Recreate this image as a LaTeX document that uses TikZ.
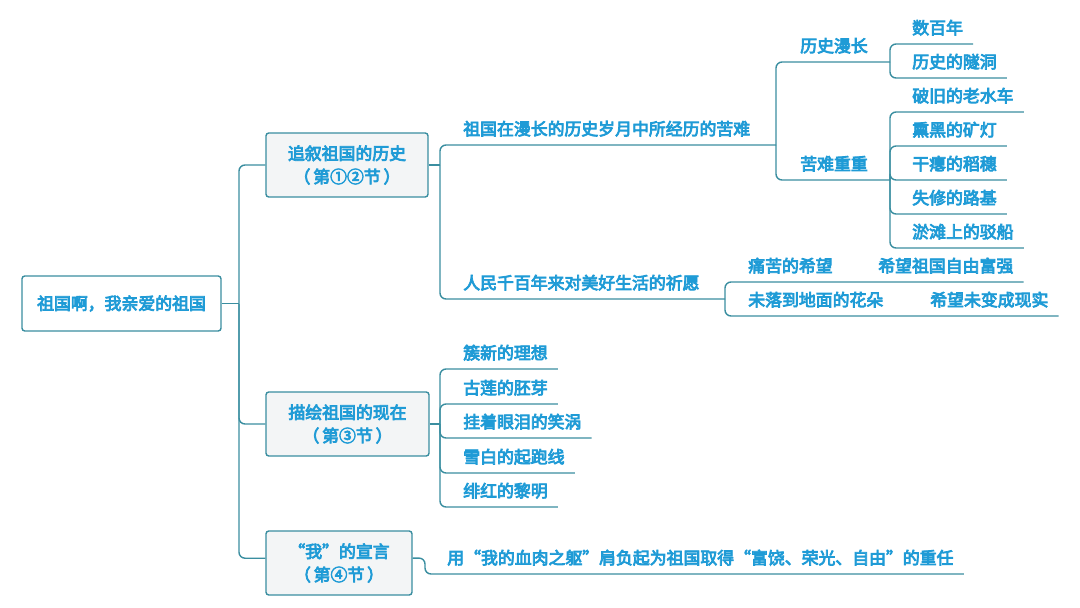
\documentclass[tikz,border=0pt]{standalone}
\usepackage{fontspec}
\setmainfont{Noto Sans CJK SC}[AutoFakeBold=4.5]
\usepackage{xcolor}
\usetikzlibrary{calc}
\definecolor{txtblue}{HTML}{1F9BD6}
\definecolor{linkteal}{HTML}{3A8EA0}
\definecolor{boxgray}{HTML}{F3F5F6}

\begin{document}
\begin{tikzpicture}[x=0.025cm, y=-0.025cm,
  font=\fontsize{12}{16.5}\selectfont\bfseries,
  link/.style={draw=linkteal, line width=1pt, rounded corners=0.15cm},
  topicbox/.style={draw=linkteal, line width=1pt, fill=boxgray, rounded corners=2pt,
    align=center, text=txtblue, minimum height=1.6cm, inner sep=0pt},
  leaf/.style={anchor=south west, text=txtblue, inner xsep=0.25cm, inner ysep=0.24cm, text depth=0pt}]
  \useasboundingbox (0,0) rectangle (1080,607);

  % central topic and the three sections
  \node[topicbox, fill=white, minimum width=4.975cm, minimum height=1.375cm] (root) at (121.5,303.5) {祖国啊，我亲爱的祖国};
  \node[topicbox, minimum width=4.05cm] (hist) at (347,165) {追叙祖国的历史\\（\,第①②节\,）};
  \node[topicbox, minimum width=4.075cm] (now) at (347.5,424) {描绘祖国的现在\\（\,第③节\,）};
  \node[topicbox, minimum width=3.65cm] (decl) at (339,563) {“我”的宣言\\（\,第④节\,）};
  \coordinate (sp) at (239,303.5);
  \draw[link] (root.east) -- (sp);
  \draw[link] (sp) |- (hist.west);
  \draw[link] (sp) |- (now.west);
  \draw[link] (sp) |- ([yshift=0.12cm]decl.west);

  % history
  \coordinate (jh) at (440,165);
  \coordinate (jsuf) at (776,145);
  \coordinate (jwish) at (725,299);
  \node[leaf] (suf) at (453,145) {祖国在漫长的历史岁月中所经历的苦难};
  \node[leaf] (wish) at (453,299) {人民千百年来对美好生活的祈愿};
  \draw[link] (hist.east) -- (jh);
  \draw[link] (jh) |- (jsuf);
  \draw[link] (jh) |- (jwish);

  \coordinate (jlong) at (890,62);
  \coordinate (jhard) at (890,180);
  \node[leaf] (long) at (790,62) {历史漫长};
  \node[leaf] (hard) at (790,180) {苦难重重};
  \draw[link] (jsuf) |- (jlong);
  \draw[link] (jsuf) |- (jhard);

  \node[leaf] (l1) at (902,44) {数百年};
  \node[leaf] (l2) at (902,78) {历史的隧洞};
  \draw[link] (jlong) |- (l1.south east);
  \draw[link] (jlong) |- (l2.south east);

  \node[leaf] (h1) at (902,112) {破旧的老水车};
  \node[leaf] (h2) at (902,146) {熏黑的矿灯};
  \node[leaf] (h3) at (902,180) {干瘪的稻穗};
  \node[leaf] (h4) at (902,214) {失修的路基};
  \node[leaf] (h5) at (902,248) {淤滩上的驳船};
  \foreach \n in {h1,h2,h3,h4,h5}
    \draw[link] (jhard) |- (\n.south east);

  \node[leaf] (w1) at (738,282) {痛苦的希望};
  \node[leaf] (w2) at (868,282) {希望祖国自由富强};
  \node[leaf] (w3) at (738,316) {未落到地面的花朵};
  \node[leaf] (w4) at (920,316) {希望未变成现实};
  \draw[link] (jwish) |- (w2.south east);
  \draw[link] (jwish) |- (w4.south east);

  % present
  \coordinate (jn) at (440,424);
  \draw[link] (now.east) -- (jn);
  \node[leaf] (n1) at (453,369) {簇新的理想};
  \node[leaf] (n2) at (453,404) {古莲的胚芽};
  \node[leaf] (n3) at (453,438) {挂着眼泪的笑涡};
  \node[leaf] (n4) at (453,473) {雪白的起跑线};
  \node[leaf] (n5) at (453,507) {绯红的黎明};
  \foreach \n in {n1,n2,n3,n4,n5}
    \draw[link] (jn) |- (\n.south east);

  % declaration
  \coordinate (jd) at (425,558);
  \node[leaf] (d1) at (437,574) {用“我的血肉之躯”肩负起为祖国取得“富饶、荣光、自由”的重任};
  \draw[link] ([yshift=0.12cm]decl.east) -- (jd) |- (d1.south east);
\end{tikzpicture}
\end{document}
